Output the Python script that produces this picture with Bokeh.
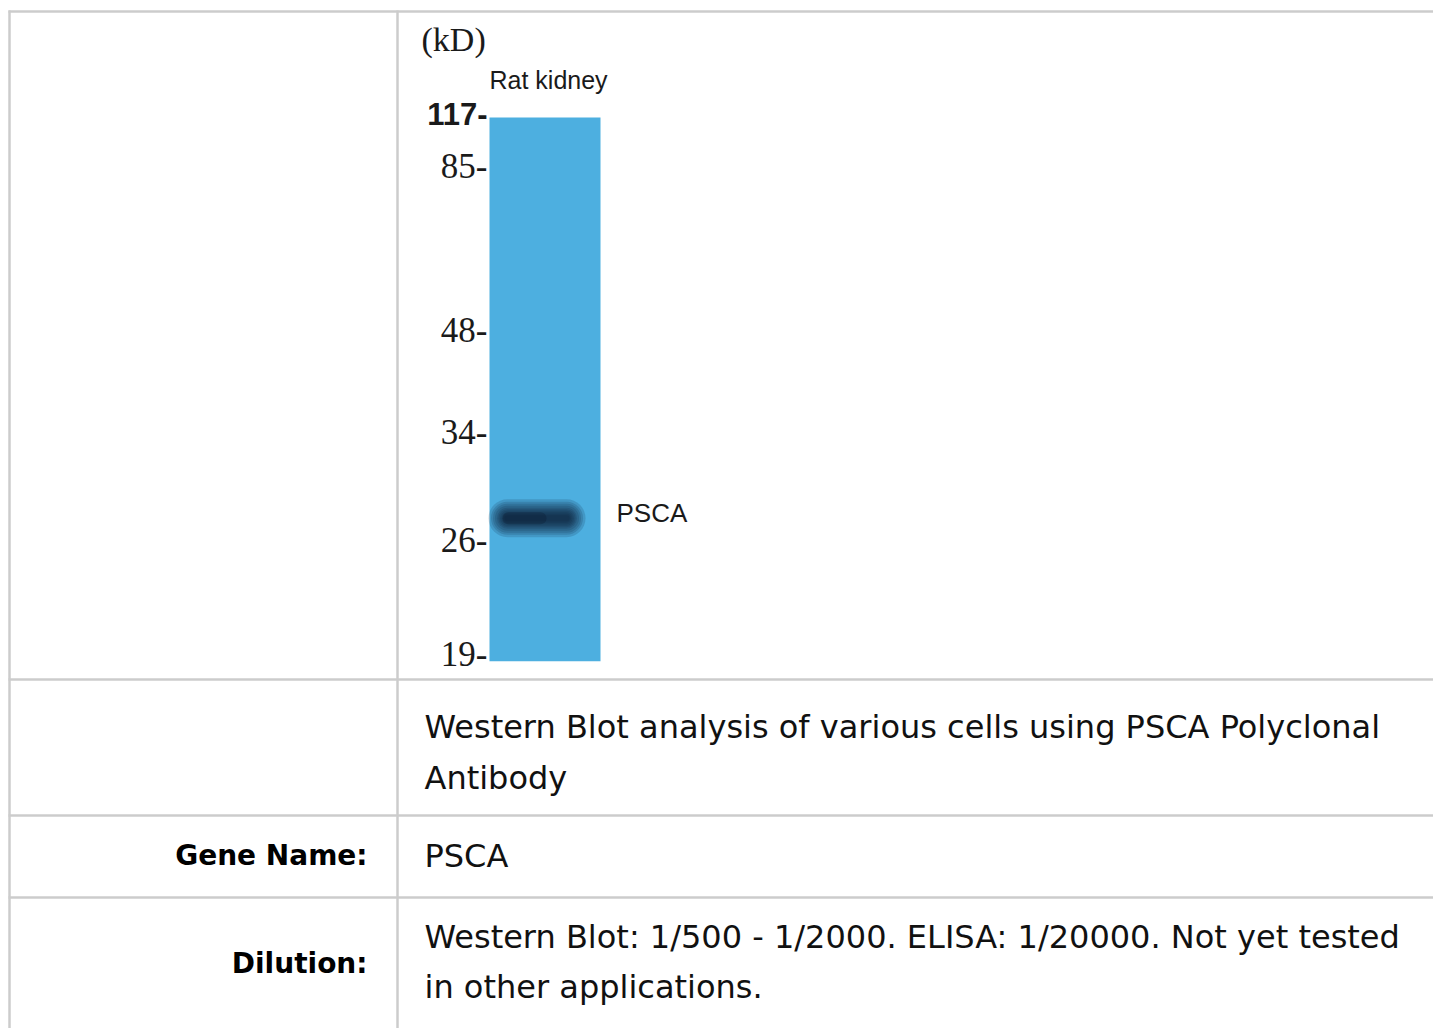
from bokeh.plotting import figure
from bokeh.models import Range1d
from bokeh.core.properties import value
from bokeh.embed import file_html
from bokeh.resources import INLINE

# ---- data read from the blot ----
lanes = ["Rat kidney"]
marker_mw = [117, 85, 48, 34, 26, 19]            # kD
marker_rf = [0.0, 0.098, 0.40, 0.589, 0.789, 1.0]  # relative migration
lane_rf_top = 0.0
lane_rf_bottom = 1.007
band_names = ["PSCA"]
band_rf = [0.742]

# ---- table text ----
caption_lines = ["Western Blot analysis of various cells using PSCA Polyclonal", "Antibody"]
row_labels = ["Gene Name:", "Dilution:"]
gene_name = "PSCA"
dilution_lines = ["Western Blot: 1/500 - 1/2000. ELISA: 1/20000. Not yet tested", "in other applications."]

# ---- layout constants (page pixels) ----
W, H = 1433, 1028
RF0_PX, PX_PER_RF = 117.0, 540.0
LANE_X0, LANE_W = 489, 111

p = figure(width=W, height=H, x_range=Range1d(0, W), y_range=Range1d(H, 0),
           output_backend="svg", toolbar_location=None, x_axis_type=None, y_axis_type=None,
           min_border=0)
p.outline_line_color = None
p.background_fill_color = "white"
p.border_fill_color = "white"
p.extra_y_ranges = {"blot": Range1d(start=(H - RF0_PX) / PX_PER_RF, end=(0 - RF0_PX) / PX_PER_RF)}

# table grid
grid_c = "#cccccc"
p.segment(x0=[8, 8, 8, 8], x1=[W] * 4, y0=[11, 679, 815, 897], y1=[11, 679, 815, 897],
          line_color=grid_c, line_width=2.5)
p.segment(x0=[9, 397], x1=[9, 397], y0=[10, 10], y1=[H, H], line_color=grid_c, line_width=2.5)

# lane
p.quad(left=[LANE_X0], right=[LANE_X0 + LANE_W], top=[lane_rf_top], bottom=[lane_rf_bottom],
       y_range_name="blot", fill_color="#4DAFE0", line_color=None)

# band: soft blurred stroke built from stacked translucent round-capped strokes
n = len(band_rf)
for t in [38, 33, 29, 25, 21, 18, 15, 12, 9, 6]:
    p.segment(x0=[507] * n, x1=[566] * n, y0=band_rf, y1=band_rf, y_range_name="blot",
              line_width=t, line_color="#0b1f38", line_alpha=0.16, line_cap="round")
p.segment(x0=[508] * n, x1=[540] * n, y0=band_rf, y1=band_rf, y_range_name="blot",
          line_width=12, line_color="#081526", line_alpha=0.25, line_cap="round")

serif = value("Liberation Serif")
sans = value("Liberation Sans")
ink = "#1a1a1a"

# marker labels (top marker printed in a bold sans face in the original figure)
p.text(x=[487], y=marker_rf[:1], text=[f"{m}-" for m in marker_mw[:1]], y_range_name="blot",
       text_align="right", text_baseline="alphabetic", y_offset=-4, text_font=sans,
       text_font_style="bold", text_font_size="31px", text_color=ink)
p.text(x=[487] * (len(marker_mw) - 1), y=marker_rf[1:], text=[f"{m}-" for m in marker_mw[1:]],
       y_range_name="blot", text_align="right", text_baseline="alphabetic", y_offset=-4,
       text_font=serif, text_font_size="35px", text_color=ink)
p.text(x=[421], y=[(39 - RF0_PX) / PX_PER_RF], text=["(kD)"], y_range_name="blot", text_align="left",
       text_baseline="alphabetic", text_font=serif, text_font_size="34px", text_color=ink)
# lane label
p.text(x=[LANE_X0], y=[(79 - RF0_PX) / PX_PER_RF], text=lanes, y_range_name="blot", text_align="left",
       text_baseline="alphabetic", text_font=sans, text_font_size="25px", text_color=ink)
# band label
p.text(x=[616] * n, y=band_rf, text=band_names, y_range_name="blot", text_align="left",
       text_baseline="alphabetic", y_offset=-5, text_font=sans, text_font_size="26px", text_color=ink)

# table texts
body = value("DejaVu Sans")
p.text(x=[424, 424], y=[726, 777], text=caption_lines, text_align="left", text_baseline="alphabetic",
       text_font=body, text_font_size="32px", text_color="#111111")
p.text(x=[367, 367], y=[855, 963], text=row_labels, text_align="right", text_baseline="alphabetic",
       text_font=body, text_font_style="bold", text_font_size="28px", text_color="#000000")
p.text(x=[424], y=[855], text=[gene_name], text_align="left", text_baseline="alphabetic",
       text_font=body, text_font_size="32px", text_color="#111111")
p.text(x=[424, 424], y=[936, 986], text=dilution_lines, text_align="left", text_baseline="alphabetic",
       text_font=body, text_font_size="32px", text_color="#111111")

open("out.html", "w").write(file_html(p, INLINE))
